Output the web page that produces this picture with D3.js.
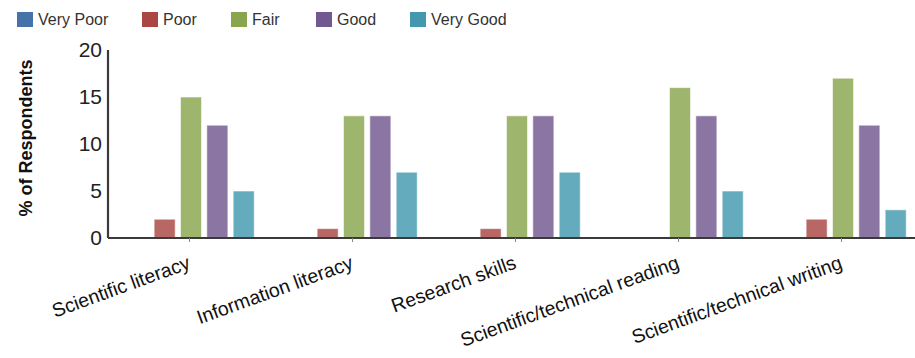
<!DOCTYPE html>
<html>
<head>
<meta charset="utf-8">
<script src="https://cdn.jsdelivr.net/npm/d3@7"></script>
<style>
  html, body { margin: 0; padding: 0; background: #fff; }
  svg { display: block; font-family: "Liberation Sans", Arial, sans-serif; }
</style>
</head>
<body>
<svg id="chart" width="915" height="358"></svg>
<script>
// Skills assessed
const categories = [
  "Scientific literacy",
  "Information literacy",
  "Research skills",
  "Scientific/technical reading",
  "Scientific/technical writing"
];

// Rating levels (series)
const ratings = ["Very Poor", "Poor", "Fair", "Good", "Very Good"];
const ratingColors = ["#4572a7", "#aa4643", "#89a54e", "#71588f", "#4198af"];

// % of respondents per rating, one array per rating, in category order
const veryPoor = [0, 0, 0, 0, 0];
const poor     = [2, 1, 1, 0, 2];
const fair     = [15, 13, 13, 16, 17];
const good     = [12, 13, 13, 13, 12];
const veryGood = [5, 7, 7, 5, 3];

const yTicks = [0, 5, 10, 15, 20];

const seriesValues = [veryPoor, poor, fair, good, veryGood];

const svg = d3.select("#chart");

const x0 = d3.scaleBand()
  .domain(categories)
  .range([108, 923])
  .paddingInner(0)
  .paddingOuter(0);

const x1 = d3.scaleBand()
  .domain(ratings)
  .range([0, x0.bandwidth() * 0.776])
  .paddingInner(0.2)
  .paddingOuter(0);

const groupOffset = (x0.bandwidth() - x1.range()[1]) / 2 + 1.5;

const y = d3.scaleLinear().domain([0, 20]).range([238, 50]);

// Bars
const groups = svg.append("g").attr("class", "bars")
  .selectAll("g")
  .data(categories)
  .join("g")
  .attr("transform", d => `translate(${x0(d) + groupOffset},0)`);

groups.selectAll("rect")
  .data((c, i) => ratings.map((r, j) => ({ rating: r, value: seriesValues[j][i], color: ratingColors[j] })))
  .join("rect")
  .filter(d => d.value > 0)
  .attr("x", d => x1(d.rating))
  .attr("y", d => y(d.value))
  .attr("width", x1.bandwidth())
  .attr("height", d => y(0) - y(d.value))
  .attr("fill", d => d.color)
  .attr("fill-opacity", 0.82)
  .attr("stroke", "#ffffff")
  .attr("stroke-opacity", 0.6)
  .attr("stroke-width", 1);

// X axis
const xAxis = svg.append("g")
  .attr("transform", `translate(0,${y(0)})`)
  .call(d3.axisBottom(x0).tickSize(4).tickFormat(""));
xAxis.select(".domain")
  .attr("d", `M108,0H915`)
  .attr("stroke", "#3a3a3a")
  .attr("stroke-width", 2.2);
xAxis.selectAll(".tick line").attr("stroke", "#888").attr("stroke-width", 1);

// Rotated category labels
svg.append("g").selectAll("text")
  .data(categories)
  .join("text")
  .attr("transform", d => `translate(${x0(d) + x0.bandwidth() / 2 + 2},268) rotate(-20)`)
  .attr("text-anchor", "end")
  .attr("font-size", 19.5)
  .attr("fill", "#111")
  .text(d => d);

// Y axis
const yAxis = svg.append("g")
  .attr("transform", "translate(108,0)")
  .call(d3.axisLeft(y).tickValues(yTicks).tickSize(0).tickPadding(6));
yAxis.select(".domain")
  .attr("d", `M0,${y(20)}V${y(0)}`)
  .attr("stroke", "#3a3a3a")
  .attr("stroke-width", 2.2);
yAxis.selectAll(".tick text")
  .attr("font-size", 21)
  .attr("fill", "#222")
  .attr("font-family", "'Liberation Sans', Arial, sans-serif");

// Y axis title
svg.append("text")
  .attr("transform", `translate(32,${(y(20) + y(0)) / 2 - 6}) rotate(-90)`)
  .attr("text-anchor", "middle")
  .attr("font-size", 18)
  .attr("font-weight", "bold")
  .attr("fill", "#111")
  .text("% of Respondents");

// Legend
const legendX = [17, 142, 231, 316, 410];
const legend = svg.append("g").selectAll("g")
  .data(ratings)
  .join("g")
  .attr("transform", (d, i) => `translate(${legendX[i]},12)`);
legend.append("rect")
  .attr("width", 16)
  .attr("height", 15)
  .attr("fill", (d, i) => ratingColors[i]);
legend.append("text")
  .attr("x", 21)
  .attr("y", 13)
  .attr("font-size", 16)
  .attr("fill", "#333")
  .text(d => d);
</script>
</body>
</html>
